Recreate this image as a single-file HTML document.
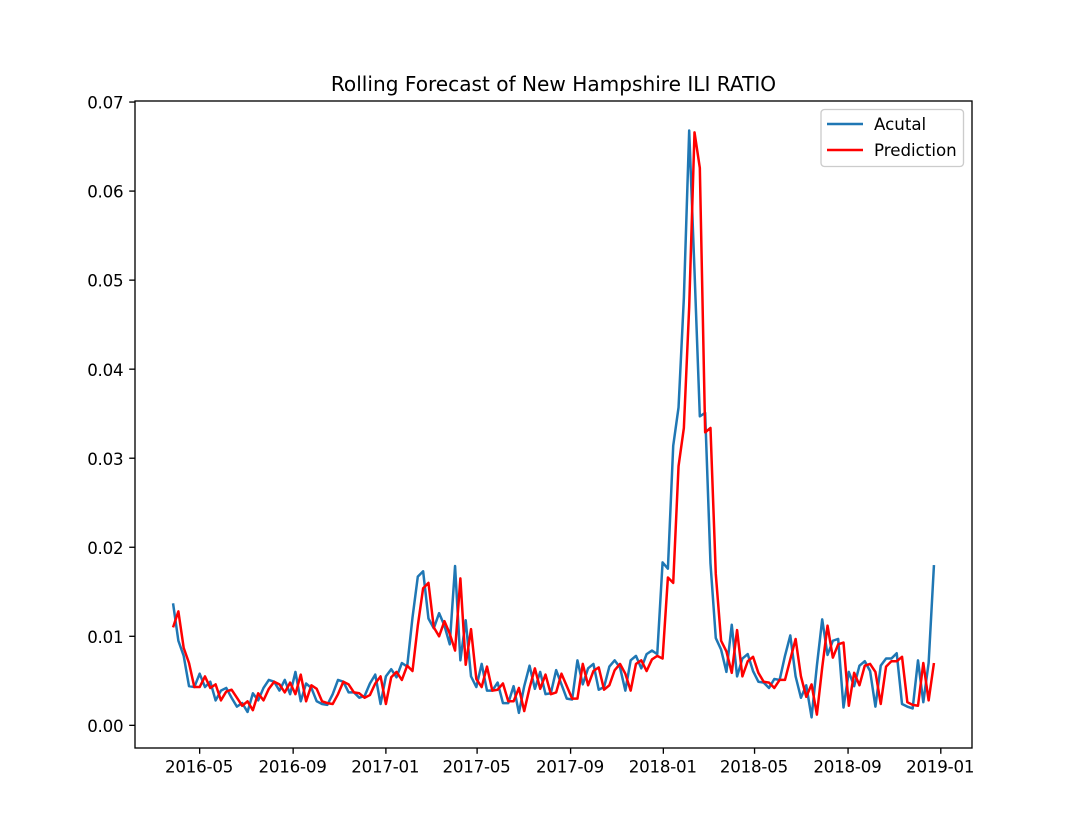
<!DOCTYPE html>
<html lang="en">
<head>
<meta charset="utf-8">
<title>Rolling Forecast of New Hampshire ILI RATIO</title>
<style>
  html, body { margin: 0; padding: 0; background: #fff; }
  svg { display: block; }
  text { font-family: "DejaVu Sans", "Liberation Sans", sans-serif; fill: #000; }
</style>
</head>
<body>
<svg id="chart" xmlns="http://www.w3.org/2000/svg" width="1080" height="840" viewBox="0 0 1080 840">
  <rect x="0" y="0" width="1080" height="840" fill="#fff"/>
  <text x="553.5" y="91" font-size="20.1" text-anchor="middle">Rolling Forecast of New Hampshire ILI RATIO</text>
  <g id="ticks"></g>
  <polyline id="actual-line" fill="none" stroke="#1f77b4" stroke-width="2.5" stroke-linejoin="round" stroke-linecap="butt"/>
  <polyline id="prediction-line" fill="none" stroke="#ff0000" stroke-width="2.5" stroke-linejoin="round" stroke-linecap="butt"/>
  <rect x="135" y="101" width="837" height="647" fill="none" stroke="#000" stroke-width="1.33"/>
  <g>
    <rect x="821" y="109.5" width="142.5" height="57" rx="3.5" ry="3.5" fill="#fff" fill-opacity="0.8" stroke="#ccc" stroke-width="1.33"/>
    <line x1="827" y1="124" x2="863" y2="124" stroke="#1f77b4" stroke-width="2.5"/>
    <text x="874" y="130" font-size="16.67">Acutal</text>
    <line x1="827" y1="150" x2="863" y2="150" stroke="#ff0000" stroke-width="2.5"/>
    <text x="874" y="156" font-size="16.67">Prediction</text>
  </g>
</svg>
<script>
const firstWeek = "2016-03-27";
const weekCount = 144;
const actualValues = [
  0.0137,0.0095,0.0078,0.0044,0.0043,0.0058,0.0043,0.0049,0.0028,0.0039,
  0.0042,0.0031,0.0021,0.0025,0.0015,0.0036,0.0028,0.0042,0.0051,0.0049,
  0.0039,0.0051,0.0035,0.0060,0.0027,0.0047,0.0042,0.0027,0.0024,0.0023,
  0.0035,0.0051,0.0049,0.0037,0.0037,0.0031,0.0033,0.0047,0.0057,0.0024,
  0.0055,0.0063,0.0054,0.0070,0.0066,0.0121,0.0167,0.0173,0.0120,0.0109,
  0.0126,0.0112,0.0091,0.0179,0.0073,0.0118,0.0055,0.0043,0.0069,0.0039,
  0.0039,0.0048,0.0025,0.0025,0.0044,0.0014,0.0044,0.0067,0.0041,0.0060,
  0.0035,0.0036,0.0062,0.0046,0.0030,0.0029,0.0073,0.0046,0.0064,0.0069,
  0.0040,0.0043,0.0066,0.0073,0.0065,0.0039,0.0073,0.0078,0.0064,0.0080,
  0.0084,0.0080,0.0183,0.0176,0.0314,0.0357,0.0480,0.0668,0.0510,0.0347,
  0.0351,0.0182,0.0098,0.0085,0.0060,0.0113,0.0055,0.0075,0.0080,0.0061,
  0.0049,0.0048,0.0042,0.0052,0.0051,0.0078,0.0101,0.0055,0.0031,0.0045,
  0.0009,0.0067,0.0119,0.0079,0.0095,0.0097,0.0020,0.0060,0.0044,0.0067,
  0.0072,0.0061,0.0021,0.0067,0.0075,0.0075,0.0081,0.0024,0.0021,0.0019,
  0.0073,0.0026,0.0070,0.0180
];
const predictionValues = [
  0.0110,0.0128,0.0087,0.0070,0.0043,0.0043,0.0055,0.0042,0.0046,0.0028,
  0.0038,0.0040,0.0031,0.0022,0.0027,0.0017,0.0036,0.0028,0.0041,0.0049,
  0.0046,0.0037,0.0048,0.0035,0.0057,0.0027,0.0045,0.0041,0.0027,0.0025,
  0.0024,0.0035,0.0049,0.0046,0.0037,0.0036,0.0031,0.0034,0.0047,0.0055,
  0.0024,0.0054,0.0060,0.0051,0.0067,0.0061,0.0112,0.0154,0.0160,0.0110,
  0.0100,0.0117,0.0103,0.0084,0.0165,0.0068,0.0108,0.0052,0.0043,0.0066,
  0.0039,0.0040,0.0047,0.0027,0.0027,0.0042,0.0016,0.0042,0.0064,0.0041,
  0.0057,0.0035,0.0037,0.0058,0.0044,0.0030,0.0030,0.0069,0.0045,0.0061,
  0.0065,0.0040,0.0045,0.0062,0.0069,0.0058,0.0039,0.0069,0.0073,0.0061,
  0.0074,0.0078,0.0075,0.0166,0.0160,0.0291,0.0334,0.0470,0.0666,0.0626,
  0.0329,0.0334,0.0170,0.0095,0.0083,0.0059,0.0107,0.0055,0.0072,0.0077,
  0.0059,0.0049,0.0048,0.0042,0.0051,0.0051,0.0074,0.0097,0.0055,0.0032,
  0.0046,0.0012,0.0065,0.0112,0.0076,0.0091,0.0093,0.0022,0.0059,0.0045,
  0.0067,0.0069,0.0060,0.0024,0.0066,0.0072,0.0072,0.0077,0.0026,0.0023,
  0.0022,0.0070,0.0028,0.0070
];
const xTickLabels = ["2016-05","2016-09","2017-01","2017-05","2017-09","2018-01","2018-05","2018-09","2019-01"];
const yTickValues = [0,0.01,0.02,0.03,0.04,0.05,0.06,0.07];

const SVG_NS = "http://www.w3.org/2000/svg";
const DAY_MS = 86400000;
const plotLeft = 135, plotRight = 972, plotTop = 100.8, plotBottom = 747.6;
const yDomainMin = -0.0025, yDomainMax = 0.07014;
const startMs = Date.parse(firstWeek + "T00:00:00Z");
const spanDays = (weekCount - 1) * 7;
const xDomainMin = -0.05 * spanDays, xDomainMax = 1.05 * spanDays;

function xScale(ms) {
  const days = (ms - startMs) / DAY_MS;
  return plotLeft + (days - xDomainMin) / (xDomainMax - xDomainMin) * (plotRight - plotLeft);
}
function yScale(v) {
  return plotBottom - (v - yDomainMin) / (yDomainMax - yDomainMin) * (plotBottom - plotTop);
}
function linePoints(values) {
  return values.map(function (v, i) {
    return xScale(startMs + i * 7 * DAY_MS).toFixed(2) + "," + yScale(v).toFixed(2);
  }).join(" ");
}
document.getElementById("actual-line").setAttribute("points", linePoints(actualValues));
document.getElementById("prediction-line").setAttribute("points", linePoints(predictionValues));

const tickGroup = document.getElementById("ticks");
xTickLabels.forEach(function (label) {
  const x = xScale(Date.parse(label + "-01T00:00:00Z"));
  const mark = document.createElementNS(SVG_NS, "line");
  
  
  mark.setAttribute("x1", x);
  mark.setAttribute("x2", x);
  mark.setAttribute("y1", 748);
  mark.setAttribute("y2", 753.8);
  mark.setAttribute("stroke", "#000");
  mark.setAttribute("stroke-width", "1.33");
  tickGroup.appendChild(mark);
  const text = document.createElementNS(SVG_NS, "text");
  
  
  text.setAttribute("x", x - 0.6);
  text.setAttribute("y", 772.5);
  text.setAttribute("font-size", "16.67");
  text.setAttribute("letter-spacing", "-0.22");
  text.setAttribute("text-anchor", "middle");
  text.textContent = label;
  tickGroup.appendChild(text);
});
yTickValues.forEach(function (v) {
  const y = yScale(v);
  const mark = document.createElementNS(SVG_NS, "line");
  
  
  mark.setAttribute("x1", 129.2);
  mark.setAttribute("x2", 135);
  mark.setAttribute("y1", y);
  mark.setAttribute("y2", y);
  mark.setAttribute("stroke", "#000");
  mark.setAttribute("stroke-width", "1.33");
  tickGroup.appendChild(mark);
  const text = document.createElementNS(SVG_NS, "text");
  
  
  text.setAttribute("x", 123.3);
  text.setAttribute("y", y + 6.6);
  text.setAttribute("font-size", "16.67");
  text.setAttribute("letter-spacing", "-0.25");
  text.setAttribute("text-anchor", "end");
  text.textContent = v.toFixed(2);
  tickGroup.appendChild(text);
});
</script>
</body>
</html>
